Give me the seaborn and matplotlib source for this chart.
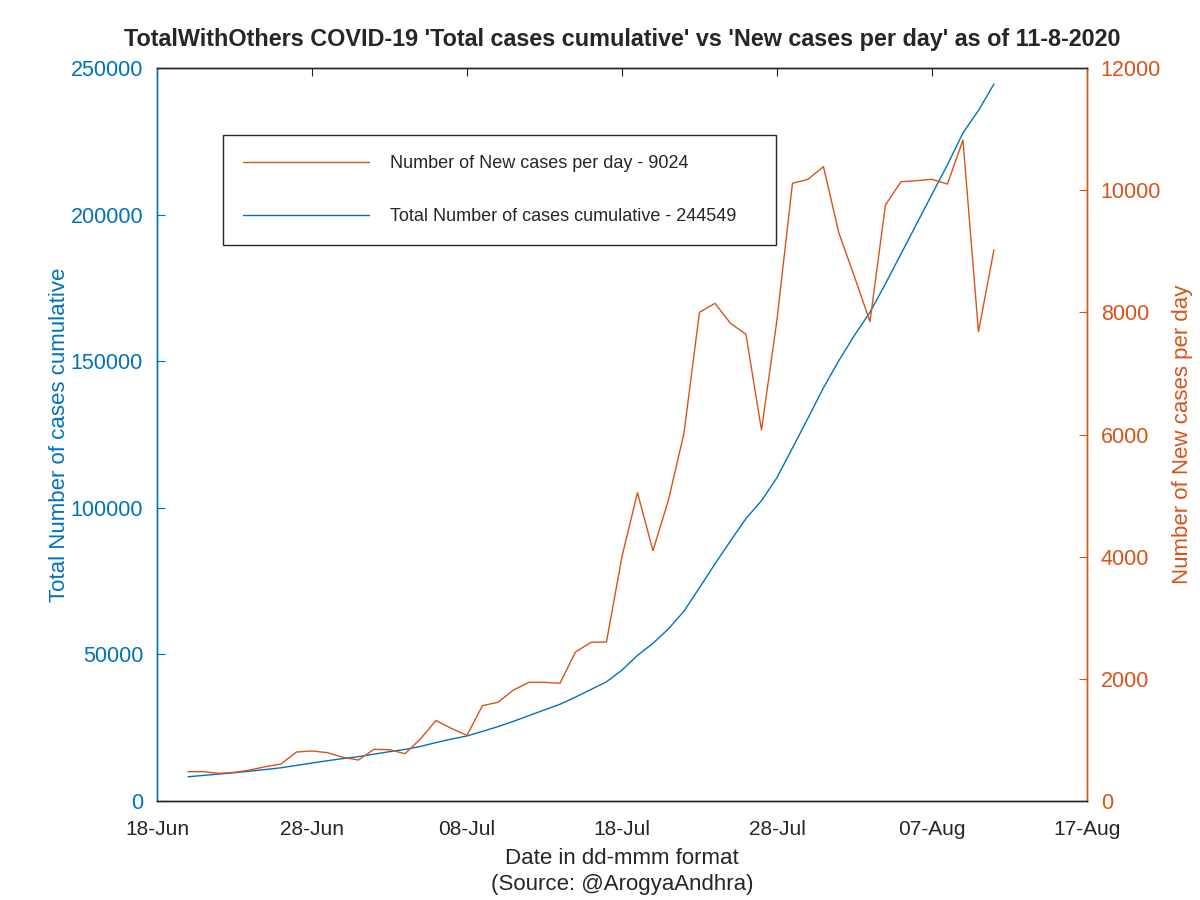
import matplotlib
matplotlib.use("Agg")
import matplotlib.pyplot as plt
import matplotlib.dates as mdates
import seaborn as sns
import pandas as pd

# daily figures, 20-Jun-2020 .. 11-Aug-2020
start_date = "2020-06-20"
new_cases = [
    480, 480, 453, 469, 507, 562, 605, 802, 819, 791,
    715, 671, 846, 840, 774, 1015, 1318, 1188, 1074, 1561,
    1616, 1817, 1943, 1943, 1927, 2439, 2598, 2603, 4000, 5048,
    4098, 4928, 6020, 8001, 8148, 7821, 7641, 6074, 7875, 10113,
    10178, 10385, 9294, 8584, 7847, 9758, 10139, 10156, 10178, 10101,
    10822, 7683, 9024,
]
total_cases = [
    8257, 8737, 9190, 9659, 10166, 10728, 11333, 12135, 12954, 13745,
    14460, 15131, 15977, 16817, 17591, 18606, 19924, 21112, 22186, 23747,
    25363, 27180, 29123, 31066, 32993, 35432, 38030, 40633, 44633, 49681,
    53779, 58707, 64727, 72728, 80876, 88697, 96338, 102412, 110287, 120400,
    130578, 140963, 150257, 158841, 166688, 176446, 186585, 196741, 206919, 217020,
    227842, 235525, 244549,
]
left_ticks = [0, 50000, 100000, 150000, 200000, 250000]
right_ticks = [0, 2000, 4000, 6000, 8000, 10000, 12000]
x_ticks = ["2020-06-18", "2020-06-28", "2020-07-08", "2020-07-18",
           "2020-07-28", "2020-08-07", "2020-08-17"]

BLUE = "#0072BD"
ORANGE = "#D95319"

df = pd.DataFrame({
    "date": pd.date_range(start_date, periods=len(new_cases), freq="D"),
    "new": new_cases,
    "total": total_cases,
})

sns.set_style("white")
plt.rcParams["font.family"] = ["Liberation Sans", "DejaVu Sans"]

fig = plt.figure(figsize=(12, 9), dpi=100)
ax = fig.add_axes([0.1308, 0.11, 0.775, 0.8144])
ax2 = ax.twinx()

sns.lineplot(data=df, x="date", y="total", ax=ax, color=BLUE, linewidth=1,
             label="Total Number of cases cumulative - 244549", legend=False)
sns.lineplot(data=df, x="date", y="new", ax=ax2, color=ORANGE, linewidth=1,
             label="Number of New cases per day - 9024", legend=False)

xt = pd.to_datetime(x_ticks)
ax.set_xlim(xt[0], xt[-1])
ax.set_xticks(xt)
ax.xaxis.set_major_formatter(mdates.DateFormatter("%d-%b"))
ax.set_ylim(0, 250000)
ax.set_yticks(left_ticks)
ax.set_yticklabels([str(v) for v in left_ticks])
ax2.set_ylim(0, 12000)
ax2.set_yticks(right_ticks)
ax2.set_yticklabels([str(v) for v in right_ticks])

ax.tick_params(axis="x", direction="in", length=6, labelsize=15, colors="#262626",
               top=True, pad=14)
ax.tick_params(axis="y", direction="in", length=6, labelsize=15.5, colors=BLUE, pad=10)
ax2.tick_params(axis="y", direction="in", length=6, labelsize=15.5, colors=ORANGE, pad=10)

ax.set_xlabel("Date in dd-mmm format\n(Source: @ArogyaAndhra)", fontsize=16,
              color="#262626", labelpad=6, linespacing=1.35)
ax.set_ylabel("Total Number of cases cumulative", fontsize=16, color=BLUE, labelpad=0)
ax2.set_ylabel("Number of New cases per day", fontsize=16, color=ORANGE, labelpad=8)

for a in (ax, ax2):
    for s in a.spines.values():
        s.set_linewidth(1)
        s.set_color("#262626")
    a.spines["left"].set_color(BLUE)
    a.spines["right"].set_color(ORANGE)

ax.set_title("TotalWithOthers COVID-19 'Total cases cumulative' vs 'New cases per day' as of 11-8-2020",
             fontsize=16.8, fontweight="bold", pad=16)

h1, l1 = ax.get_legend_handles_labels()
h2, l2 = ax2.get_legend_handles_labels()
labels = [l + "    " for l in l2 + l1]
leg = ax2.legend(h2 + h1, labels, loc="upper left",
                 bbox_to_anchor=(223 / 1200, 1 - 135 / 900),
                 bbox_transform=fig.transFigure, fontsize=13,
                 handlelength=7.0, handletextpad=1.15, labelspacing=2.0,
                 borderpad=1.1, borderaxespad=0, fancybox=False,
                 framealpha=1, edgecolor="#262626")
leg.get_frame().set_linewidth(1)

fig.savefig("out.png", dpi=100)
